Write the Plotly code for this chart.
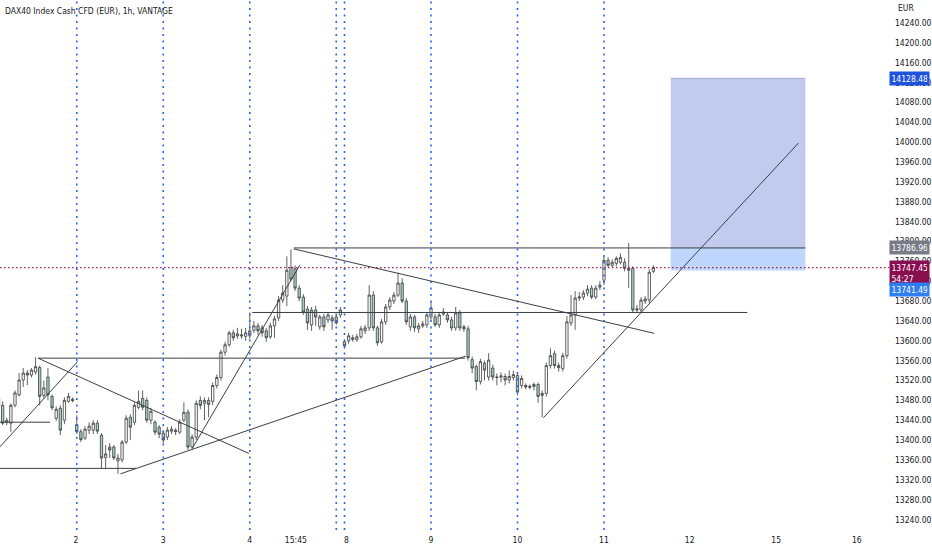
import plotly.graph_objects as go

# DAX40 CFD, 1h candles, bar index 0..159
opens = [
    # day 1 (tail)
    13484, 13470, 13436, 13434, 13470, 13491, 13521, 13535, 13531, 13537,
    13546, 13490, 13527, 13488, 13444, 13464, 13440, 13478, 13482,
    # day 2
    13431, 13417, 13404, 13420, 13420, 13434, 13410, 13365, 13386, 13386,
    13358, 13360, 13396, 13446, 13436, 13466, 13484, 13480, 13440, 13436, 13426,
    # day 3
    13414, 13406, 13418, 13420, 13416, 13440, 13456, 13386, 13406, 13480,
    13474, 13480, 13478, 13510, 13526, 13577, 13592, 13616, 13610, 13612, 13609,
    # day 4
    13610, 13621, 13630, 13626, 13620, 13608, 13630, 13646, 13682, 13690,
    13748, 13745, 13706, 13688, 13664, 13632, 13662, 13628, 13648, 13642, 13646,
    # day 5 (short)
    13648, 13652,
    # day 8
    13598, 13600, 13606, 13602, 13608, 13620, 13626, 13692, 13626, 13598,
    13638, 13668, 13680, 13692, 13716, 13680, 13628, 13648, 13624, 13630, 13632,
    # day 9
    13648, 13648, 13632, 13654, 13652, 13642, 13626, 13656, 13628, 13624,
    13562, 13548, 13518, 13555, 13527, 13545, 13527, 13527, 13528, 13521, 13526,
    # day 10
    13530, 13510, 13510, 13506, 13508, 13512, 13490, 13494, 13550, 13574,
    13550, 13544, 13570, 13636, 13652, 13686, 13688, 13696, 13706, 13688, 13708,
    # day 11
    13722, 13762, 13752, 13756, 13758, 13758, 13746, 13746, 13662, 13662,
    13680, 13682, 13740,
]
highs = [
    13492, 13478, 13445, 13474, 13500, 13535, 13545, 13541, 13545, 13567,
    13550, 13520, 13545, 13492, 13468, 13470, 13486, 13495, 13486,
    13450, 13422, 13428, 13436, 13440, 13440, 13414, 13390, 13394, 13390,
    13372, 13400, 13450, 13452, 13476, 13500, 13500, 13486, 13465, 13440, 13430,
    13420, 13426, 13428, 13424, 13442, 13476, 13462, 13412, 13480, 13488,
    13486, 13486, 13516, 13532, 13582, 13598, 13620, 13622, 13626, 13624, 13626,
    13657, 13640, 13636, 13632, 13626, 13636, 13650, 13690, 13712, 13770,
    13784, 13752, 13712, 13694, 13670, 13668, 13670, 13652, 13654, 13658, 13652,
    13654, 13668,
    13602, 13616, 13612, 13614, 13630, 13632, 13712, 13700, 13630, 13644,
    13674, 13688, 13698, 13737, 13726, 13686, 13654, 13652, 13636, 13640, 13658,
    13678, 13654, 13658, 13666, 13658, 13648, 13668, 13662, 13632, 13630,
    13568, 13552, 13564, 13560, 13575, 13552, 13534, 13536, 13534, 13540, 13540,
    13536, 13530, 13514, 13512, 13516, 13516, 13500, 13556, 13585, 13580,
    13556, 13576, 13650, 13692, 13700, 13698, 13702, 13712, 13712, 13712, 13720,
    13770, 13768, 13764, 13770, 13776, 13766, 13797, 13750, 13672, 13688,
    13690, 13744, 13752,
]
lows = [
    13462, 13430, 13430, 13416, 13466, 13488, 13507, 13511, 13526, 13532,
    13470, 13484, 13480, 13460, 13438, 13410, 13432, 13475, 13476,
    13412, 13396, 13400, 13412, 13412, 13412, 13344, 13344, 13364, 13360,
    13332, 13355, 13392, 13400, 13430, 13462, 13460, 13435, 13432, 13410, 13404,
    13394, 13400, 13412, 13410, 13412, 13436, 13380, 13380, 13400, 13462,
    13440, 13446, 13470, 13504, 13520, 13570, 13588, 13600, 13604, 13604, 13600,
    13604, 13616, 13612, 13608, 13598, 13604, 13606, 13640, 13676, 13670,
    13720, 13700, 13680, 13652, 13622, 13620, 13630, 13622, 13620, 13636, 13622,
    13632, 13646,
    13584, 13594, 13598, 13598, 13604, 13614, 13620, 13620, 13590, 13594,
    13632, 13662, 13674, 13688, 13676, 13632, 13620, 13618, 13616, 13626, 13626,
    13642, 13628, 13626, 13650, 13636, 13620, 13620, 13620, 13618, 13560,
    13535, 13500, 13512, 13520, 13520, 13520, 13510, 13516, 13510, 13514, 13520,
    13490, 13504, 13502, 13502, 13500, 13475, 13446, 13488, 13544, 13544,
    13538, 13538, 13564, 13630, 13622, 13680, 13682, 13690, 13684, 13684, 13702,
    13712, 13748, 13748, 13750, 13754, 13740, 13706, 13656, 13656, 13656,
    13674, 13676, 13736,
]
closes = [
    13468, 13434, 13440, 13470, 13495, 13521, 13535, 13531, 13541, 13548,
    13488, 13505, 13491, 13465, 13462, 13420, 13480, 13488, 13480,
    13417, 13401, 13422, 13428, 13434, 13418, 13364, 13372, 13380, 13364,
    13364, 13396, 13444, 13426, 13470, 13478, 13466, 13440, 13458, 13416, 13412,
    13400, 13420, 13422, 13417, 13436, 13456, 13386, 13406, 13474, 13470,
    13480, 13472, 13510, 13526, 13577, 13592, 13616, 13606, 13614, 13610, 13616,
    13620, 13630, 13620, 13616, 13606, 13630, 13644, 13682, 13696, 13742,
    13724, 13706, 13686, 13658, 13636, 13662, 13648, 13648, 13628, 13652, 13640,
    13636, 13662,
    13590, 13610, 13603, 13608, 13624, 13626, 13692, 13626, 13596, 13638,
    13668, 13682, 13692, 13716, 13680, 13638, 13648, 13626, 13630, 13634, 13652,
    13666, 13632, 13652, 13658, 13642, 13626, 13656, 13626, 13624, 13566,
    13545, 13518, 13558, 13541, 13561, 13527, 13526, 13529, 13521, 13528, 13532,
    13497, 13524, 13507, 13508, 13512, 13488, 13494, 13550, 13570, 13550,
    13546, 13570, 13638, 13652, 13686, 13688, 13696, 13704, 13688, 13706, 13712,
    13762, 13752, 13758, 13766, 13768, 13746, 13742, 13662, 13664, 13682,
    13684, 13738, 13747.45,
]

# session breaks (bar index of first bar of each day)
day_breaks = [19, 40, 61, 82, 84, 105, 126, 147]
tick_pos = [18.8, 40, 61, 72.2, 84.5, 105, 126, 147, 167.8, 188.8, 208.4]
tick_text = ["2", "3", "4", "15:45", "8", "9", "10", "11", "12", "15", "16"]
price_ticks = list(range(13240, 14241, 40))

# drawn trend lines: (bar0, price0, bar1, price1)
trend_lines = [
    (0.3, 13436, 12.5, 13436),
    (0.3, 13343, 33.4, 13343),
    (0.3, 13386, 19.2, 13558),
    (9.6, 13565, 113.3, 13565),
    (9.6, 13565, 60.8, 13373),
    (29.6, 13332, 113.4, 13569),
    (47.1, 13384, 73.2, 13753),
    (71.7, 13786.96, 195.9, 13786.96),
    (71.7, 13785, 159.2, 13615),
    (61.6, 13657, 181.8, 13657),
    (132.3, 13445, 194.2, 13998),
]

# long position box
box_x = (163.2, 195.9)
target_price = 14128.48
level_price = 13786.96
last_price = 13747.45
entry_price = 13741.49
countdown = "54:27"

FONT = "Liberation Sans Narrow, DejaVu Sans Condensed, Arial Narrow, Liberation Sans, Arial, sans-serif"
TXT = "#131722"

fig = go.Figure()

fig.add_trace(go.Candlestick(
    x=list(range(len(opens))),
    open=opens, high=highs, low=lows, close=closes,
    increasing=dict(line=dict(color="#3a3a3a", width=0.8), fillcolor="#ffffff"),
    decreasing=dict(line=dict(color="#3a3a3a", width=0.8), fillcolor="#a6d3cb"),
    hoverinfo="skip",
    showlegend=False,
))

# position box
fig.add_shape(type="rect", x0=box_x[0], x1=box_x[1], y0=level_price, y1=target_price,
              fillcolor="#c2cbef", line=dict(width=0), layer="below")
fig.add_shape(type="rect", x0=box_x[0], x1=box_x[1], y0=entry_price, y1=level_price,
              fillcolor="#bed6fb", line=dict(width=0), layer="below")
fig.add_shape(type="line", x0=box_x[0], x1=box_x[1], y0=target_price, y1=target_price,
              line=dict(color="#a6b0d4", width=1))

# session separators
for b in day_breaks:
    fig.add_shape(type="line", x0=b, x1=b, yref="paper", y0=0, y1=1,
                  line=dict(color="#2962ff", width=1.6, dash="2px,4.5px"))

for x0, y0, x1, y1 in trend_lines:
    fig.add_shape(type="line", x0=x0, y0=y0, x1=x1, y1=y1,
                  line=dict(color="#3b3e47", width=1))

# last price line
fig.add_shape(type="line", xref="paper", x0=0, x1=1, y0=last_price, y1=last_price,
              line=dict(color="#a31d52", width=1.3, dash="1.5px,2.5px"))


# price scale labels
def price_tag(y, text, bg, yshift=0):
    fig.add_annotation(xref="paper", x=1, xanchor="left", y=y, yref="y",
                       yshift=yshift, text=text, showarrow=False, align="left",
                       bgcolor=bg, font=dict(family=FONT, size=8.5, color="white"),
                       borderpad=1.5, width=36)


price_tag(target_price, f"{target_price:.2f}", "#1f52dc")
price_tag(level_price, f"{level_price:.2f}", "#787b86")
price_tag(last_price, f"{last_price:.2f}<br>{countdown}", "#880e4f", yshift=-5)
price_tag(entry_price, f"{entry_price:.2f}", "#2f7df3", yshift=-19)

fig.add_annotation(xref="paper", yref="paper", x=1, y=1, xshift=7, yshift=-8,
                   xanchor="left", yanchor="middle", text="EUR", showarrow=False,
                   font=dict(family=FONT, size=8.5, color=TXT))
fig.add_annotation(xref="paper", yref="paper", x=0, y=1, xshift=3, yshift=-11,
                   xanchor="left", yanchor="middle", showarrow=False,
                   text="DAX40 Index Cash CFD (EUR), 1h, VANTAGE",
                   font=dict(family=FONT, size=8.5, color=TXT))

fig.update_layout(
    width=932, height=550,
    margin=dict(l=0, r=40, t=0, b=20),
    paper_bgcolor="white", plot_bgcolor="white",
    showlegend=False,
    boxgap=0.2,
    font=dict(family=FONT, size=8.5, color=TXT),
    xaxis=dict(range=[0.36, 216.2], tickvals=tick_pos, ticktext=tick_text,
               showgrid=False, zeroline=False, showline=False, ticks="",
               ticklabelstandoff=3,
               rangeslider=dict(visible=False), fixedrange=True,
               tickfont=dict(family=FONT, size=8.5, color=TXT)),
    yaxis=dict(side="right", range=[13218.9, 14286.3], tickvals=price_ticks,
               ticktext=[f"{v:.2f}" for v in price_ticks],
               showgrid=False, zeroline=False, showline=False, ticks="",
               ticklabelstandoff=5, fixedrange=True,
               tickfont=dict(family=FONT, size=8.5, color=TXT)),
)

# drop the browser's default body margin so the chart sits at the page corner
fig.write_html("out.html", config={"displayModeBar": False},
               post_script="document.body.style.margin='0px';")
